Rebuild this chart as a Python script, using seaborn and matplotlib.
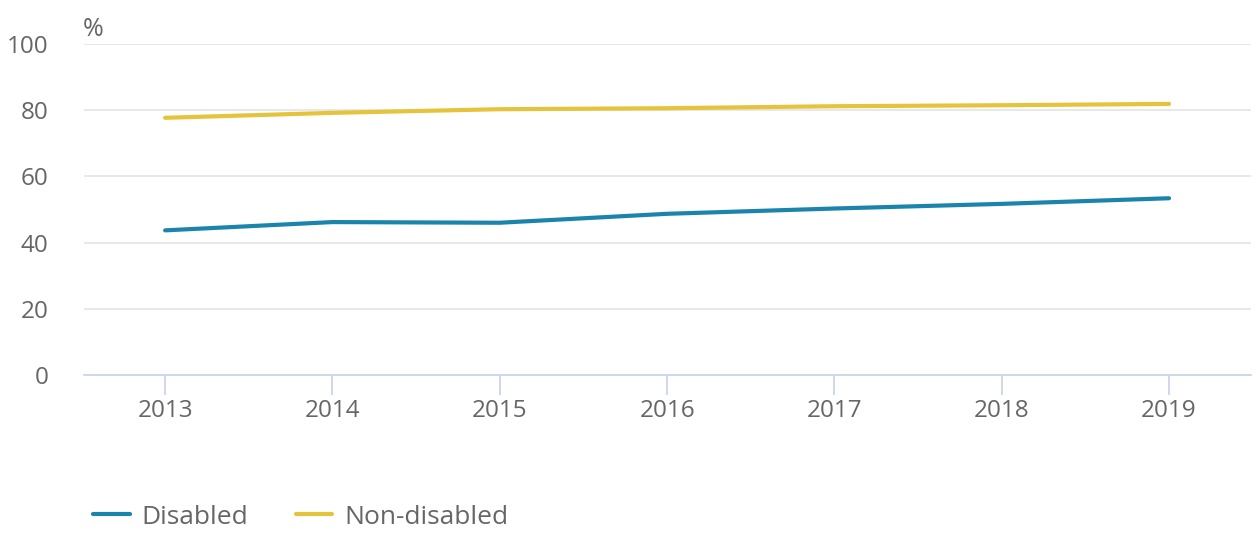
import matplotlib
matplotlib.use("Agg")
import matplotlib.pyplot as plt
import seaborn as sns
import pandas as pd
from matplotlib.lines import Line2D

years = [2013, 2014, 2015, 2016, 2017, 2018, 2019]
disabled = [43.7, 46.2, 46.0, 48.7, 50.3, 51.7, 53.4]
non_disabled = [77.7, 79.2, 80.3, 80.6, 81.2, 81.5, 81.9]
series_names = ["Disabled", "Non-disabled"]
colors = ["#1b84ad", "#e5c43b"]
yticks = [0, 20, 40, 60, 80, 100]

df = pd.DataFrame({
    "year": years * 2,
    "value": disabled + non_disabled,
    "series": [series_names[0]] * len(years) + [series_names[1]] * len(years),
})

sns.set_theme(style="white")
plt.rcParams['font.family'] = ['Open Sans', 'DejaVu Sans']

fig = plt.figure(figsize=(12.56, 5.39), dpi=100)
ax = fig.add_axes([84/1256, 164/539, 1167/1256, 331/539])

sns.lineplot(data=df, x="year", y="value", hue="series", palette=colors,
             linewidth=3.0, ax=ax, legend=False, solid_capstyle="round")

ax.set_xlim(2012.515, 2019.49)
ax.set_ylim(0, 100)
ax.set_yticks(yticks)
ax.set_xticks(years)
ax.set_xticklabels([str(y) for y in years])
ax.grid(axis="y", color="#e6e6e6", linewidth=1.3)
ax.set_axisbelow(True)
for s in ["top", "right", "left"]:
    ax.spines[s].set_visible(False)
ax.spines["bottom"].set_color("#ccd6eb")
ax.spines["bottom"].set_linewidth(1.3)
ax.tick_params(axis="x", colors="#ccd6eb", length=14.4, width=1.3, labelcolor="#666666",
               labelsize=17.5, pad=3, bottom=True)
ax.tick_params(axis="y", length=0, labelcolor="#666666", labelsize=17.5, pad=25.5)
ax.set_xlabel("")
ax.set_ylabel("")
ax.text(83/1256, 1 - 42/539, "%", transform=fig.transFigure, fontsize=18,
        color="#666666", ha="left", va="bottom")

handles = [Line2D([0], [0], color=c, linewidth=3.0) for c in colors]
fig.legend(handles, series_names, loc="center left", bbox_to_anchor=(93/1256, 1 - 517/539),
           frameon=False, fontsize=19, labelcolor="#666666", ncol=2,
           borderpad=0, borderaxespad=0,
           handlelength=1.40, handletextpad=0.45, columnspacing=1.78)

fig.savefig("out.png", dpi=100)
